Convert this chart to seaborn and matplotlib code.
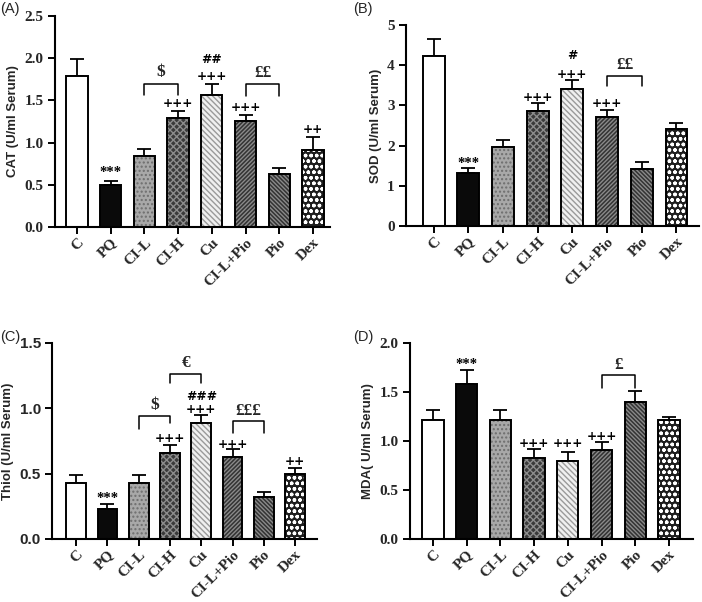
import matplotlib
matplotlib.use("Agg")
import matplotlib.pyplot as plt
import seaborn as sns
import pandas as pd
import numpy as np

groups = ["C", "PQ", "CI-L", "CI-H", "Cu", "CI-L+Pio", "Pio", "Dex"]

cat_mean = [1.79, 0.50, 0.84, 1.29, 1.57, 1.26, 0.63, 0.91]
cat_err = [0.20, 0.05, 0.09, 0.09, 0.12, 0.07, 0.07, 0.16]

sod_mean = [4.23, 1.31, 1.97, 2.86, 3.42, 2.72, 1.43, 2.42]
sod_err = [0.43, 0.14, 0.17, 0.19, 0.21, 0.17, 0.15, 0.13]

thiol_mean = [0.43, 0.23, 0.43, 0.66, 0.89, 0.63, 0.32, 0.50]
thiol_err = [0.06, 0.04, 0.06, 0.06, 0.06, 0.06, 0.04, 0.04]

mda_mean = [1.21, 1.58, 1.21, 0.83, 0.80, 0.91, 1.40, 1.21]
mda_err = [0.11, 0.14, 0.11, 0.09, 0.09, 0.08, 0.11, 0.03]

face_colors = ["#ffffff", "#0a0a0a", "#a8a8a8", "#3a3a3a", "#f0f0f0", "#333333", "#333333", "#1e1e1e"]
hatch_colors = ["black", "black", "#6e6e6e", "#8c8c8c", "#9a9a9a", "#8a8a8a", "#8a8a8a", "#ffffff"]
hatches = ["", "", "....", "xxxxx", "\\\\\\\\\\\\", "////////", "\\\\\\\\\\\\\\\\", "ooo"]

# annotations: (x index, y, text)
cat_marks = [(1, 0.65, "***"), (3, 1.46, "+++"), (4, 1.78, "+++"), (4, 1.98, "##"),
             (5, 1.42, "+++"), (7, 1.15, "++")]
cat_brackets = [(2, 3, 1.70, 1.57, 1.57, "$"), (5, 6, 1.69, 1.55, 1.55, "££")]

sod_marks = [(1, 1.56, "***"), (3, 3.19, "+++"), (4, 3.78, "+++"), (4, 4.25, "#"),
             (5, 3.05, "+++")]
sod_brackets = [(5, 6, 3.73, 3.48, 3.48, "££")]

thiol_marks = [(1, 0.31, "***"), (3, 0.77, "+++"), (4, 0.99, "+++"), (4, 1.09, "###"),
               (5, 0.72, "+++"), (7, 0.59, "++")]
thiol_brackets = [(2, 3, 0.94, 0.84, 0.89, "$"), (3, 4, 1.265, 1.19, 1.19, "€"),
                  (5, 6, 0.90, 0.81, 0.81, "£££")]

mda_marks = [(1, 1.78, "***"), (3, 0.97, "+++"), (4, 0.97, "+++"), (5, 1.05, "+++")]
mda_brackets = [(5, 6, 1.67, 1.54, 1.54, "£")]

sns.set_style("ticks")
plt.rcParams["hatch.linewidth"] = 1.0
plt.rcParams["font.family"] = ["DejaVu Sans"]

SERIF = "Liberation Serif"
SANS = "Liberation Sans"

fig = plt.figure(figsize=(7.02, 6.02), dpi=100)

panels = [
    dict(rect=[0.0783, 0.6229, 0.3917, 0.3505], mean=cat_mean, err=cat_err, ylim=(0, 2.5),
         yticks=[0, 0.5, 1.0, 1.5, 2.0, 2.5], fmt="{:.1f}", ylabel="CAT (U/ml Serum)",
         xlim=(-0.65, 7.5), marks=cat_marks, brackets=cat_brackets, label="(A)",
         label_xy=(0.0, 0.985), tickfont=SERIF),
    dict(rect=[0.5783, 0.6246, 0.4174, 0.3339], mean=sod_mean, err=sod_err, ylim=(0, 5),
         yticks=[0, 1, 2, 3, 4, 5], fmt="{:.0f}", ylabel="SOD (U/ml Serum)",
         xlim=(-0.8, 7.65), marks=sod_marks, brackets=sod_brackets, label="(B)",
         label_xy=(0.503, 0.985), tickfont=SERIF),
    dict(rect=[0.0741, 0.1047, 0.3775, 0.3256], mean=thiol_mean, err=thiol_err, ylim=(0, 1.5),
         yticks=[0, 0.5, 1.0, 1.5], fmt="{:.1f}", ylabel="Thiol (U/ml Serum)",
         xlim=(-0.77, 7.7), marks=thiol_marks, brackets=thiol_brackets, label="(C)",
         label_xy=(0.0, 0.44), tickfont=SANS),
    dict(rect=[0.584, 0.1047, 0.4031, 0.3256], mean=mda_mean, err=mda_err, ylim=(0, 2.0),
         yticks=[0, 0.5, 1.0, 1.5, 2.0], fmt="{:.1f}", ylabel="MDA( U/ml Serum)",
         xlim=(-0.68, 7.71), marks=mda_marks, brackets=mda_brackets, label="(D)",
         label_xy=(0.503, 0.44), tickfont=SERIF),
]

for p in panels:
    ax = fig.add_axes(p["rect"])
    df = pd.DataFrame({"group": groups, "value": p["mean"]})
    # hatched fill layer
    sns.barplot(data=df, x="group", y="value", order=groups, ax=ax, errorbar=None,
                width=0.63, color="white", saturation=1)
    for patch, fc, hc, h in zip(ax.patches, face_colors, hatch_colors, hatches):
        patch.set_facecolor(fc)
        patch.set_edgecolor(hc)
        patch.set_linewidth(0)
        patch.set_hatch(h)
        patch.set_zorder(2)
    n_fill = len(ax.patches)
    # outline layer
    sns.barplot(data=df, x="group", y="value", order=groups, ax=ax, errorbar=None,
                width=0.63, color="black", fill=False, saturation=1)
    for patch in ax.patches[n_fill:]:
        patch.set_edgecolor("black")
        patch.set_facecolor("none")
        patch.set_linewidth(1.4)
        patch.set_zorder(3)
    xs = np.arange(len(groups))
    ax.errorbar(xs, p["mean"], yerr=[np.zeros(len(groups)), p["err"]], fmt="none",
                ecolor="black", elinewidth=1.3, capsize=5, capthick=1.3, zorder=1)
    for (xi, yv, txt) in p["marks"]:
        if "*" in txt:
            ax.text(xi, yv, txt, ha="center", va="center", fontsize=10.5,
                    fontweight="bold", family=SERIF, color="black")
        else:
            ax.text(xi, yv, txt, ha="center", va="center", fontsize=8.8,
                    fontweight="bold", family="DejaVu Sans", color="black")
    span = p["ylim"][1] - p["ylim"][0]
    for (x1, x2, top, l1, l2, txt) in p["brackets"]:
        ax.plot([x1, x1, x2, x2], [l1, top, top, l2], color="black", lw=1.1, zorder=3)
        ax.text((x1 + x2) / 2, top + 0.055 * span, txt, ha="center", va="center",
                fontsize=12.5, fontweight="bold", family=SERIF)
    ax.set_ylim(*p["ylim"])
    ax.set_xlim(*p["xlim"])
    ax.set_yticks(p["yticks"])
    ax.set_yticklabels([p["fmt"].format(v) for v in p["yticks"]], family=p["tickfont"],
                       fontweight="bold", fontsize=11)
    ax.set_xticks(xs)
    ax.set_xticklabels(groups, rotation=45, ha="right", rotation_mode="anchor",
                       family=SERIF, fontweight="bold", fontsize=11)
    ax.set_xlabel("")
    ax.set_ylabel(p["ylabel"], family=SANS, fontweight="bold", fontsize=9.5, labelpad=4)
    for s in ["top", "right"]:
        ax.spines[s].set_visible(False)
    for s in ["left", "bottom"]:
        ax.spines[s].set_linewidth(1.5)
        ax.spines[s].set_color("black")
    ax.tick_params(axis="y", direction="out", length=5, width=1.4, color="black", pad=3)
    ax.tick_params(axis="x", direction="out", length=5, width=1.4, color="black", pad=1.5)
    fig.text(p["label_xy"][0], p["label_xy"][1], p["label"], family=SANS, fontsize=10.5,
             ha="left", va="center")

fig.savefig("out.png", dpi=100)
